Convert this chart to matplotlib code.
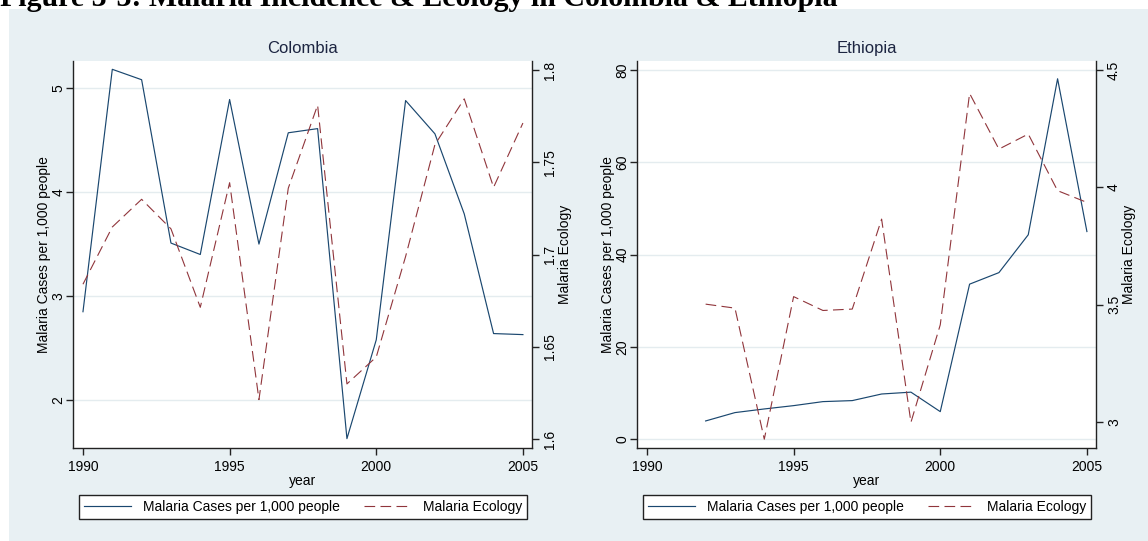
import matplotlib.pyplot as plt
from matplotlib.patches import Rectangle

plt.rcParams['font.family'] = ['Liberation Sans', 'DejaVu Sans']

# Colombia, 1990-2005
col_years = list(range(1990, 2006))
col_cases = [2.85, 5.18, 5.08, 3.51, 3.40, 4.89, 3.50, 4.57,
             4.61, 1.63, 2.58, 4.88, 4.56, 3.79, 2.64, 2.63]
col_ecology = [1.684, 1.715, 1.730, 1.714, 1.6715, 1.739, 1.6215, 1.736,
               1.781, 1.630, 1.6446, 1.699, 1.7596, 1.7844, 1.7365, 1.7713]

# Ethiopia, 1992-2005
eth_years = list(range(1992, 2006))
eth_cases = [3.96, 5.77, 6.56, 7.28, 8.15, 8.37, 9.8,
             10.2, 5.98, 33.6, 36.1, 44.3, 78.1, 45.0]
eth_ecology = [3.503, 3.486, 2.928, 3.535, 3.476, 3.482, 3.865,
               3.0, 3.415, 4.40, 4.163, 4.227, 3.986, 3.936]

xticks = [1990, 1995, 2000, 2005]
col_lticks = [2, 3, 4, 5]
col_rticks = [1.6, 1.65, 1.7, 1.75, 1.8]
eth_lticks = [0, 20, 40, 60, 80]
eth_rticks = [3, 3.5, 4, 4.5]

NAVY = '#1a476f'
MAROON = '#90353b'
BG = '#e8f0f3'
W, H = 1148, 541

fig = plt.figure(figsize=(W / 100, H / 100), dpi=100)
fig.patches.append(Rectangle((9 / W, 0), 1, 1 - 9 / H, transform=fig.transFigure,
                             facecolor=BG, edgecolor='none', zorder=-10))
fig.text(0, 1 - 6 / H, 'Figure 3-3: Malaria Incidence & Ecology in Colombia & Ethiopia',
         family=['Liberation Serif', 'DejaVu Serif'], weight='bold', fontsize=21.5,
         ha='left', va='baseline')


def panel(x0, title, years, cases, ecol, lticks, lylim, rticks, rylim):
    ax = fig.add_axes([x0 / W, 1 - 448 / H, 459 / W, 387 / H])
    ax.set_facecolor('white')
    ax2 = ax.twinx()

    l1, = ax.plot(years, cases, color=NAVY, lw=0.85)
    l2, = ax2.plot(years, ecol, color=MAROON, lw=0.8, dashes=(9.6, 4.8))

    ax.set_xlim(1989.66, 2005.31)
    ax.set_xticks(xticks)
    ax.set_ylim(*lylim)
    ax.set_yticks(lticks)
    ax2.set_ylim(*rylim)
    ax2.set_yticks(rticks)
    ax2.set_yticklabels([f'{v:g}' for v in rticks])

    ax.yaxis.grid(True, color='#e4ecef', lw=1)
    ax.set_axisbelow(True)

    for s in ['top', 'right']:
        ax.spines[s].set_visible(False)
    for s in ['top', 'left', 'bottom']:
        ax2.spines[s].set_visible(False)
    for a in (ax, ax2):
        for s in a.spines.values():
            s.set_linewidth(1)
            s.set_color('#222222')
        a.tick_params(length=5, width=1, color='#222222', labelsize=10)
    ax.tick_params(axis='y', labelrotation=90, pad=0.5)
    ax2.tick_params(axis='y', labelrotation=90, pad=3)
    for t in ax.get_yticklabels() + ax2.get_yticklabels():
        t.set_va('center')

    ax.set_title(title, fontsize=12, color='#1c2541', pad=6)
    ax.set_xlabel('year', fontsize=10, labelpad=0)
    ax.set_ylabel('Malaria Cases per 1,000 people', fontsize=10, labelpad=0)
    ax2.set_ylabel('Malaria Ecology', fontsize=10, labelpad=0.5)

    leg = fig.legend([l1, l2], ['Malaria Cases per 1,000 people', 'Malaria Ecology'],
                     loc='lower left', bbox_to_anchor=((x0 + 6) / W, 22 / H, 448 / W, 25 / H),
                     mode='expand', ncol=2, fontsize=10, fancybox=False,
                     edgecolor='#222222', framealpha=1, borderaxespad=0,
                     handlelength=3.4, handletextpad=0.85, borderpad=0.35)
    leg.get_frame().set_linewidth(1)
    return ax


panel(73, 'Colombia', col_years, col_cases, col_ecology,
      col_lticks, (1.54, 5.26), col_rticks, (1.5953, 1.8049))
panel(637, 'Ethiopia', eth_years, eth_cases, eth_ecology,
      eth_lticks, (-1.9, 81.95), eth_rticks, (2.8906, 4.538))

fig.savefig('out.png', dpi=100)
